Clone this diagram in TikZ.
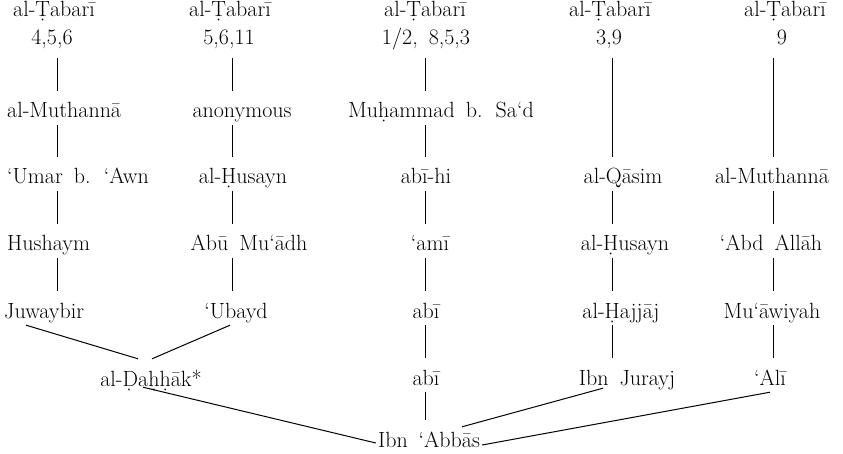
\documentclass[tikz,border=0pt]{standalone}
\usepackage{tikz}

\newcommand\isnadfont{\fontsize{22}{26}\selectfont\spaceskip=.5em\relax}

\begin{document}
\begin{tikzpicture}[x=1pt,y=-1pt]
\tikzstyle{narrator}=[anchor=base,inner xsep=2pt,inner ysep=7pt,text height=20pt,text depth=0pt,font=\isnadfont]
\tikzstyle{source}=[narrator,text depth=6pt]
\tikzstyle{isnad}=[line width=1pt]

\useasboundingbox (0,0) rectangle (843,454);

% x of the vertical lines
\coordinate (c1) at (57,0);
\coordinate (c2) at (232,0);
\coordinate (c3) at (425,0);
\coordinate (c4) at (612,0);
\coordinate (c5) at (773,0);

% column 1
\node[narrator](t1) at (54,17){al-Ṭabarī};
\node[source](s1) at (52,45){4,5,6};
\node[narrator,anchor=base west](m1) at (5,118){al-Muthannā};
\node[narrator,anchor=base west](u1) at (5,184){‘Umar b. ‘Awn};
\node[narrator,anchor=base west](h1) at (5,251){Hushaym};
\node[narrator,anchor=base west](j1) at (2,318){Juwaybir};

% column 2
\node[narrator](t2) at (230,17){al-Ṭabarī};
\node[source](s2) at (229,45){5,6,11};
\node[narrator](a2) at (242,118){anonymous};
\node[narrator](h2) at (243,184){al-Ḥusayn};
\node[narrator](m2) at (249,251){Abū Mu‘ādh};
\node[narrator](u2) at (236,318){‘Ubayd};

% column 3
\node[narrator](t3) at (425,17){al-Ṭabarī};
\node[source](s3) at (426,45){1/2, 8,5,3};
\node[narrator](m3) at (441,118){Muḥammad b. Sa‘d};
\node[narrator](a3) at (426,184){abī-hi};
\node[narrator](am3) at (430,251){‘amī};
\node[narrator](ab3) at (426,318){abī};
\node[narrator](ab3b) at (426,385){abī};

% column 4
\node[narrator](t4) at (610,17){al-Ṭabarī};
\node[source](s4) at (609,45){3,9};
\node[narrator](q4) at (623,184){al-Qāsim};
\node[narrator](h4) at (625,251){al-Ḥusayn};
\node[narrator](hj4) at (621,318){al-Ḥajjāj};
\node[narrator](ij4) at (627,385){Ibn Jurayj};

% column 5
\node[narrator](t5) at (785,17){al-Ṭabarī};
\node[source](s5) at (782,45){9};
\node[narrator](m5) at (772,184){al-Muthannā};
\node[narrator](ab5) at (771,251){‘Abd Allāh};
\node[narrator](mu5) at (772,318){Mu‘āwiyah};
\node[narrator](al5) at (770,385){‘Alī};

\node[narrator](dh) at (151,386){al-Ḍaḥḥāk*};
\node[narrator](ib) at (429,447){Ibn ‘Abbās};

\draw[isnad] (s1.south -| c1) -- (m1.north -| c1);
\draw[isnad] (m1.south -| c1) -- (u1.north -| c1);
\draw[isnad] (u1.south -| c1) -- (h1.north -| c1);
\draw[isnad] (h1.south -| c1) -- (j1.north -| c1);

\draw[isnad] (s2.south -| c2) -- (a2.north -| c2);
\draw[isnad] (a2.south -| c2) -- (h2.north -| c2);
\draw[isnad] (h2.south -| c2) -- (m2.north -| c2);
\draw[isnad] (m2.south -| c2) -- (u2.north -| c2);

\draw[isnad] (s3.south -| c3) -- (m3.north -| c3);
\draw[isnad] (m3.south -| c3) -- (a3.north -| c3);
\draw[isnad] (a3.south -| c3) -- (am3.north -| c3);
\draw[isnad] (am3.south -| c3) -- (ab3.north -| c3);
\draw[isnad] (ab3.south -| c3) -- (ab3b.north -| c3);
\draw[isnad] (ab3b.south -| c3) -- (ib.north -| c3);

\draw[isnad] (s4.south -| c4) -- (q4.north -| c4);
\draw[isnad] (q4.south -| c4) -- (h4.north -| c4);
\draw[isnad] (h4.south -| c4) -- (hj4.north -| c4);
\draw[isnad] (hj4.south -| c4) -- (ij4.north -| c4);

\draw[isnad] (s5.south -| c5) -- (m5.north -| c5);
\draw[isnad] (m5.south -| c5) -- (ab5.north -| c5);
\draw[isnad] (ab5.south -| c5) -- (mu5.north -| c5);
\draw[isnad] (mu5.south -| c5) -- (al5.north -| c5);

\draw[isnad] ([xshift=-18pt]j1.south) -- ([xshift=-13pt]dh.north);
\draw[isnad] ([xshift=-6pt]u2.south) -- ([xshift=1pt]dh.north);
\draw[isnad] ([xshift=-8pt,yshift=6pt]dh.south) -- ([yshift=-6pt]ib.west);
\draw[isnad] ([xshift=-24pt,yshift=4pt]ij4.south) -- ([xshift=33pt,yshift=-7pt]ib.north);
\draw[isnad] (al5.south) -- ([yshift=-8pt]ib.east);
\end{tikzpicture}
\end{document}
